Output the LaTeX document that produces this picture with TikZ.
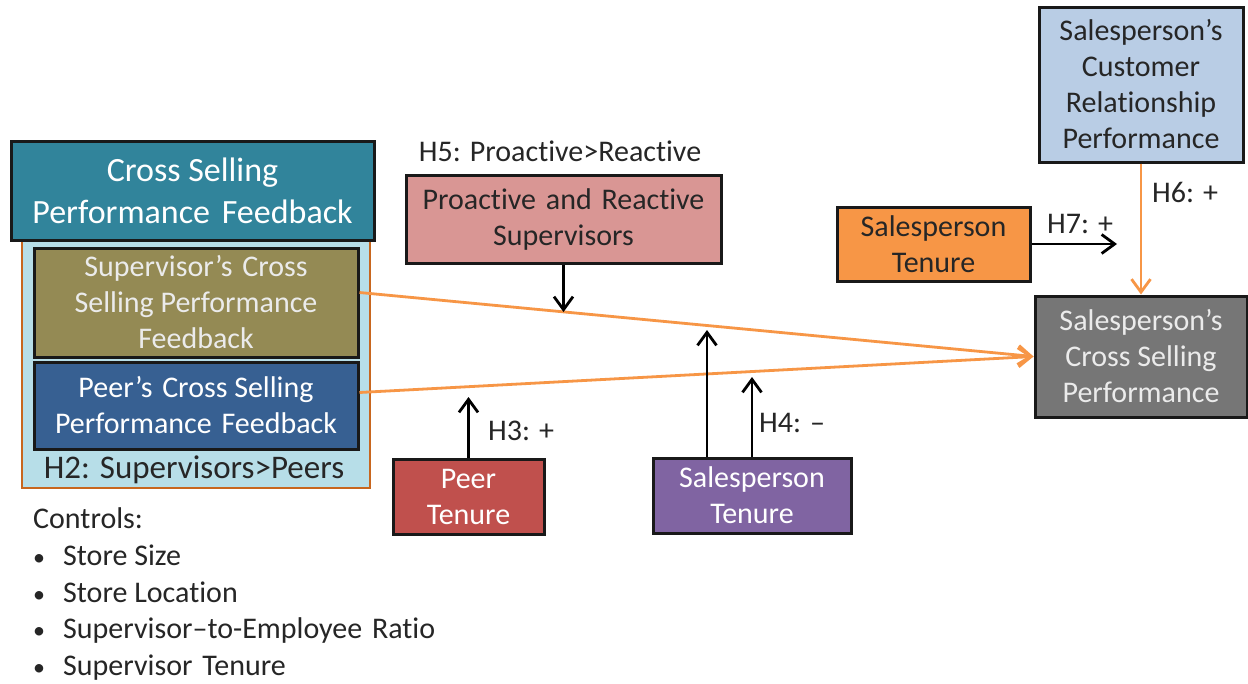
\documentclass[tikz,border=0pt]{standalone}
\usepackage{fontspec}
\setmainfont{Carlito}[Ligatures={NoCommon}]
\usetikzlibrary{arrows.meta,calc}
\definecolor{cteal}{HTML}{31849B}
\definecolor{ccont}{HTML}{B7DEE8}
\definecolor{ccontb}{HTML}{C8661E}
\definecolor{colive}{HTML}{948A54}
\definecolor{cpeer}{HTML}{376092}
\definecolor{cpro}{HTML}{D99694}
\definecolor{ccr}{HTML}{B9CDE5}
\definecolor{corange}{HTML}{F79646}
\definecolor{cred}{HTML}{C0504D}
\definecolor{cpurple}{HTML}{8064A2}
\definecolor{cgray}{HTML}{767676}
\newcommand\fsA{\fontsize{30}{36}\selectfont}
\newcommand\fsB{\fontsize{34}{42}\selectfont}
\newcommand\fsC{\fontsize{33}{40}\selectfont}
\tikzset{
  box/.style={draw=black!90, line width=3pt, inner sep=0pt, align=center, font=\fsA},
  lbl/.style={inner sep=0pt, font=\fsA, text=black!85},
  arr/.style={draw=black, line width=2.8pt, -{Straight Barb[length=13pt,width=19pt]}},
  oarr/.style={draw=corange, line width=2.8pt, -{Straight Barb[length=13pt,width=19pt]}},
}
\begin{document}
\begin{tikzpicture}[x=1pt,y=-1pt]
\path[fill=white,use as bounding box] (0,0) rectangle (1248,683);
% left group
\node[draw=ccontb, line width=2.2pt, fill=ccont, minimum width=348pt, minimum height=256pt, inner sep=0pt] (cont) at (196,360) {};
\node[box, fill=cteal, text=white, font=\fsB, minimum width=363pt, minimum height=99pt] (head) at (192.5,190.5) {Cross Selling\\Performance\hspace{4pt} Feedback};
\node[box, fill=colive, text=white!92!black, minimum width=324pt, minimum height=109pt] (sup) at (196,302.5) {Supervisor’s\hspace{3pt} Cross\\Selling Performance\\Feedback};
\node[box, fill=cpeer, text=white, minimum width=324pt, minimum height=87pt] (peer) at (196,405.5) {Peer’s\hspace{3pt} Cross Selling\\Performance\hspace{3pt} Feedback};
\node[lbl, font=\fsC, anchor=base] (h2) at (194,478) {H2: Supervisors>Peers};
% moderators
\node[lbl, anchor=base] (h5) at (560,161) {H5: Proactive>Reactive};
\node[box, fill=cpro, text=black!85, minimum width=315pt, minimum height=88pt] (pro) at (563.5,219) {Proactive\hspace{3pt} and\hspace{3pt} Reactive\\Supervisors};
\node[box, fill=cred, text=white, minimum width=151pt, minimum height=75pt] (ptn) at (468.5,496.5) {Peer\\Tenure};
\node[box, fill=cpurple, text=white, minimum width=198pt, minimum height=75pt] (purp) at (752,495.5) {Salesperson\\Tenure};
% right
\node[box, fill=ccr, text=black!85, minimum width=204pt, minimum height=155pt] (cr) at (1141,84.5) {Salesperson’s\\Customer\\Relationship\\Performance};
\node[box, fill=cgray, text=white!92!black, minimum width=212pt, minimum height=121pt] (sales) at (1141,356.5) {Salesperson’s\\Cross Selling\\Performance};
\node[box, fill=corange, text=black!85, minimum width=193pt, minimum height=74pt] (sten) at (933.5,244) {Salesperson\\Tenure};
% labels
\node[lbl, anchor=base west] (h6) at (1152,202) {H6: +};
\node[lbl, anchor=base west] (h7) at (1047,233) {H7: +};
\node[lbl, anchor=base west] (h3) at (488,440) {H3: +};
\node[lbl, anchor=base west] (h4) at (759,432) {H4: –};
% controls
\node[lbl, anchor=base west] (c0) at (33,528) {Controls:};
\node[lbl, anchor=base west] (c1) at (33,565) {\makebox[30pt][l]{\fontsize{24}{24}\selectfont•}Store Size};
\node[lbl, anchor=base west] (c2) at (33,602) {\makebox[30pt][l]{\fontsize{24}{24}\selectfont•}Store Location};
\node[lbl, anchor=base west] (c3) at (33,638) {\makebox[30pt][l]{\fontsize{24}{24}\selectfont•}Supervisor–to-Employee\hspace{3pt} Ratio};
\node[lbl, anchor=base west] (c4) at (33,675) {\makebox[30pt][l]{\fontsize{24}{24}\selectfont•}Supervisor\hspace{3pt} Tenure};
% coordinates
\coordinate (m1) at (563.5,312);
\coordinate (m2) at (468.5,397);
\coordinate (m3) at (707,330);
\coordinate (m4) at (752,377);
\coordinate (m5) at (1117,244);
% connectors
\draw[oarr] ([yshift=10pt]sup.east) -- (sales.west);
\draw[oarr] ([yshift=13pt]peer.east) -- (sales.west);
\draw[oarr] (cr.south) -- (sales.north);
\draw[arr] (pro.south) -- (m1);
\draw[arr] (ptn.north) -- (m2);
\draw[arr] (m3 |- purp.north) -- (m3);
\draw[arr] (purp.north) -- (m4);
\draw[arr] (sten.east) -- (m5);
\end{tikzpicture}
\end{document}
